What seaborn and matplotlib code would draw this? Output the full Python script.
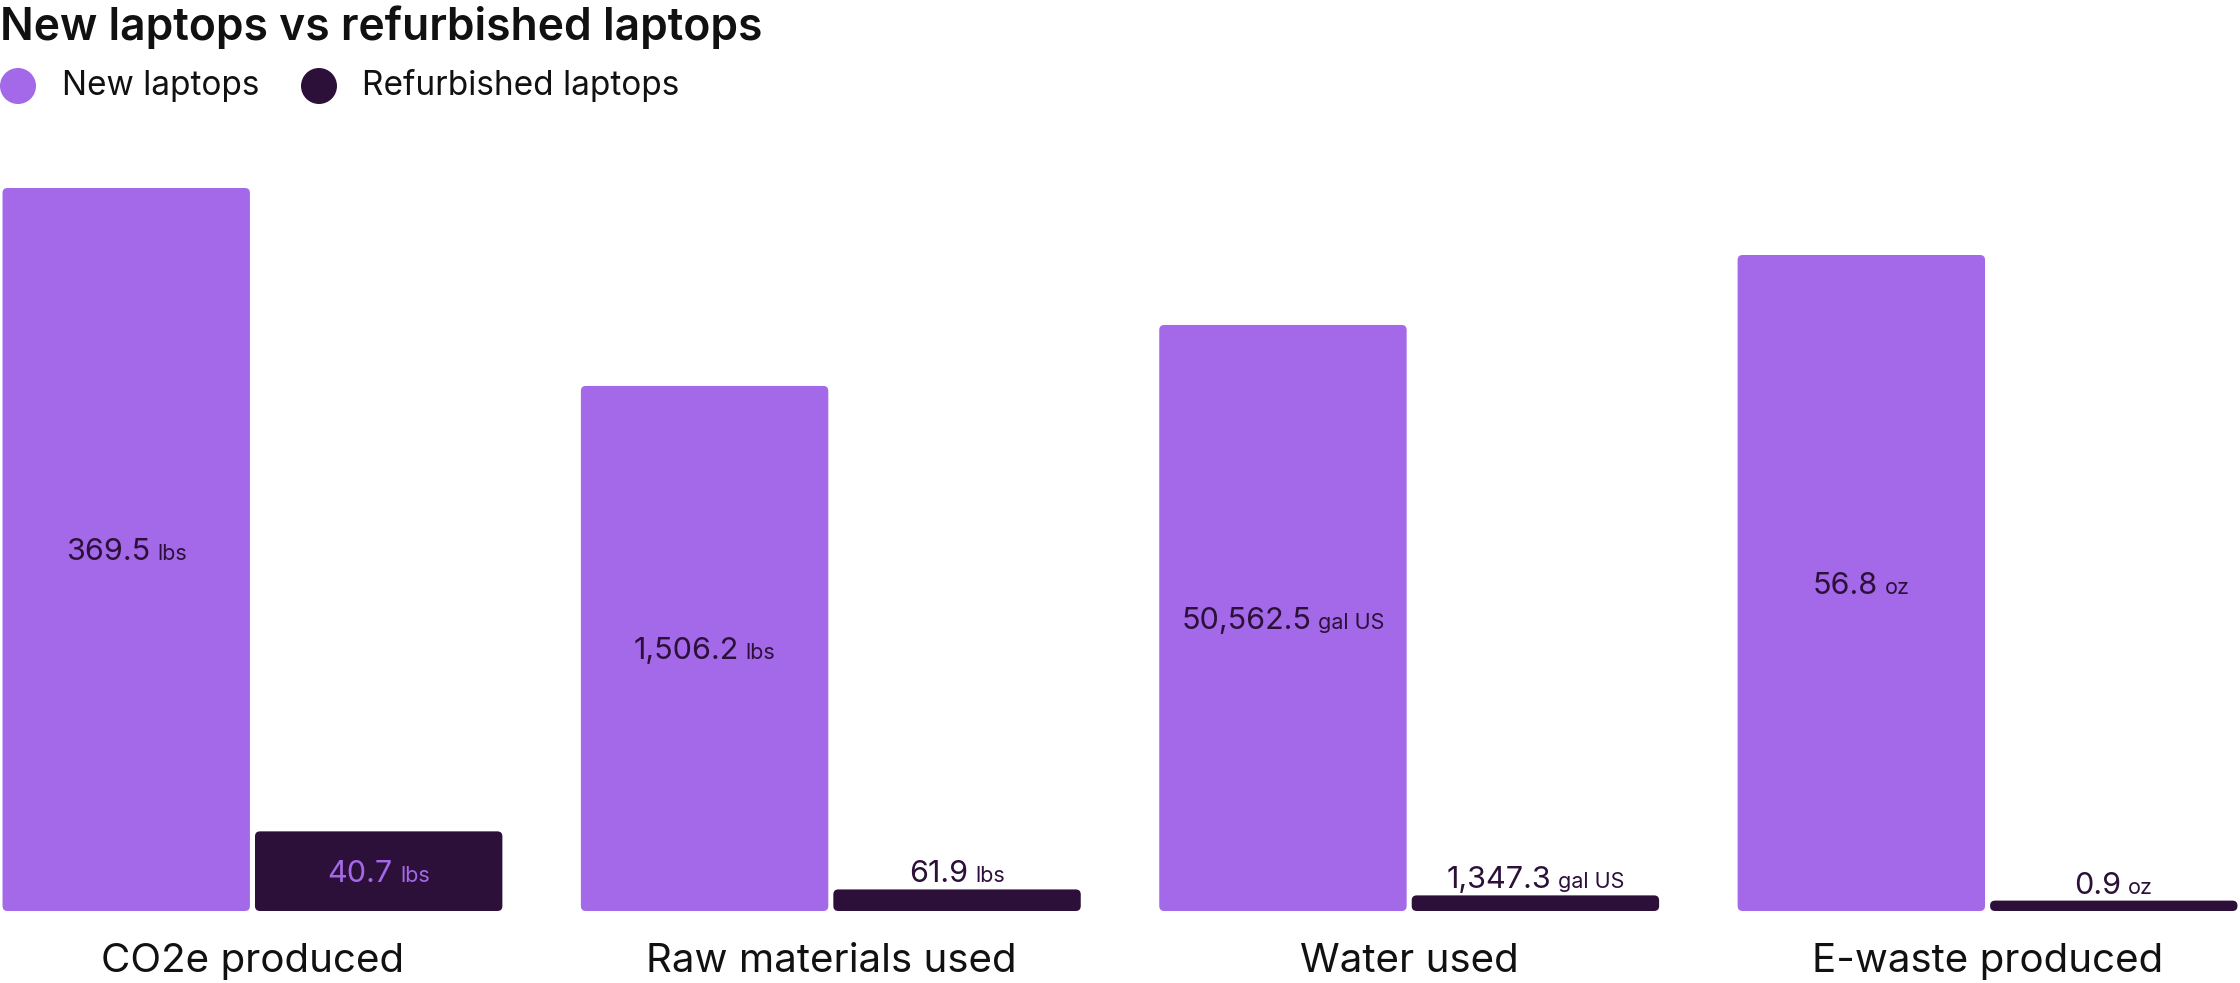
import numpy as np
import pandas as pd
import seaborn as sns
import matplotlib
matplotlib.use("Agg")
from matplotlib import pyplot as plt
from matplotlib.patches import FancyBboxPatch, Ellipse
from matplotlib.transforms import ScaledTranslation

# data
categories = ["CO2e produced", "Raw materials used", "Water used", "E-waste produced"]
series = ["New laptops", "Refurbished laptops"]
new_vals = [369.5, 1506.2, 50562.5, 56.8]
refurb_vals = [40.7, 61.9, 1347.3, 0.9]
units = ["lbs", "lbs", "gal US", "oz"]
# each group has its own unit, so each gets its own ceiling
scale_max = [369.5, 2074.0, 62380.0, 62.6]

NEW_C = "#A369E8"
REF_C = "#2C103A"
INK = "#111111"

sns.set_theme(style="white")
plt.rcParams["font.family"] = ["Inter", "DejaVu Sans"]

rows = []
for cat, nv, rv, sm in zip(categories, new_vals, refurb_vals, scale_max):
    rows.append({"category": cat, "series": series[0], "value": nv, "share": nv / sm})
    rows.append({"category": cat, "series": series[1], "value": rv, "share": rv / sm})
df = pd.DataFrame(rows)

DPI = 100
fig = plt.figure(figsize=(22.4, 9.83), dpi=DPI)
ax = fig.add_axes([0, 72 / 983, 1, 723 / 983])

sns.barplot(data=df, x="category", y="share", hue="series", order=categories,
            hue_order=series, palette=[NEW_C, REF_C], width=0.873, gap=0.02,
            saturation=1, legend=False, ax=ax)

ax.set_xlim(-0.4365, 3.4365)
ax.set_ylim(0, 1)
sns.despine(ax=ax, left=True, bottom=True)
ax.set_yticks([])
ax.set_xlabel("")
ax.set_ylabel("")
ax.tick_params(axis="x", length=0, pad=23, labelsize=29, labelcolor=INK)

# rounded corners: swap each bar for a rounded box
px_x = 1 / (2240 / 3.873)
px_y = 1 / 723
for cont in ax.containers:
    for bar in cont:
        x0, y0 = bar.get_x(), bar.get_y()
        w, h = bar.get_width(), bar.get_height()
        rb = FancyBboxPatch((x0, y0), w, h,
                            boxstyle=f"round,pad=0,rounding_size={5 * px_x}",
                            mutation_aspect=px_y / px_x,
                            facecolor=bar.get_facecolor(), edgecolor="none")
        bar.set_visible(False)
        ax.add_patch(rb)

fig.canvas.draw()
rend = fig.canvas.get_renderer()


def two_part_label(x, y, num, unit, color, dy_px):
    t1 = ax.text(x, y, num, fontsize=22, color=color, ha="left", va="baseline")
    t2 = ax.text(x, y, unit, fontsize=15.5, color=color, ha="left", va="baseline")
    w1 = t1.get_window_extent(rend).width
    w2 = t2.get_window_extent(rend).width
    space = 7
    total = w1 + space + w2
    t1.set_transform(ax.transData + ScaledTranslation(-total / 2 / DPI, dy_px / DPI, fig.dpi_scale_trans))
    t2.set_transform(ax.transData + ScaledTranslation((-total / 2 + w1 + space) / DPI, dy_px / DPI,
                                                      fig.dpi_scale_trans))


new_bars, ref_bars = ax.containers[0], ax.containers[1]
for i in range(len(categories)):
    nb = new_bars[i]
    cx = nb.get_x() + nb.get_width() / 2
    two_part_label(cx, nb.get_height() / 2, f"{new_vals[i]:,.1f}", units[i], REF_C, -11)

    rb = ref_bars[i]
    cx = rb.get_x() + rb.get_width() / 2
    h_px = rb.get_height() / px_y
    if h_px > 50:
        two_part_label(cx, rb.get_height() / 2, f"{refurb_vals[i]:,.1f}", units[i], NEW_C, -11)
    else:
        two_part_label(cx, rb.get_height(), f"{refurb_vals[i]:,.1f}", units[i], REF_C, 7)

# title and legend
fig.text(0.0, 1 - 40 / 983, "New laptops vs refurbished laptops", fontsize=32,
         fontweight="semibold", color=INK, ha="left", va="baseline")
for cx, col, lx, lab in [(18, NEW_C, 62, series[0]), (319, REF_C, 362, series[1])]:
    fig.add_artist(Ellipse((cx / 2240, 1 - 86 / 983), 36 / 2240, 36 / 983,
                           transform=fig.transFigure, facecolor=col, edgecolor="none"))
    fig.text(lx / 2240, 1 - 95 / 983, lab, fontsize=24, color=INK, ha="left", va="baseline")

fig.savefig("out.png", dpi=DPI, facecolor="white")
